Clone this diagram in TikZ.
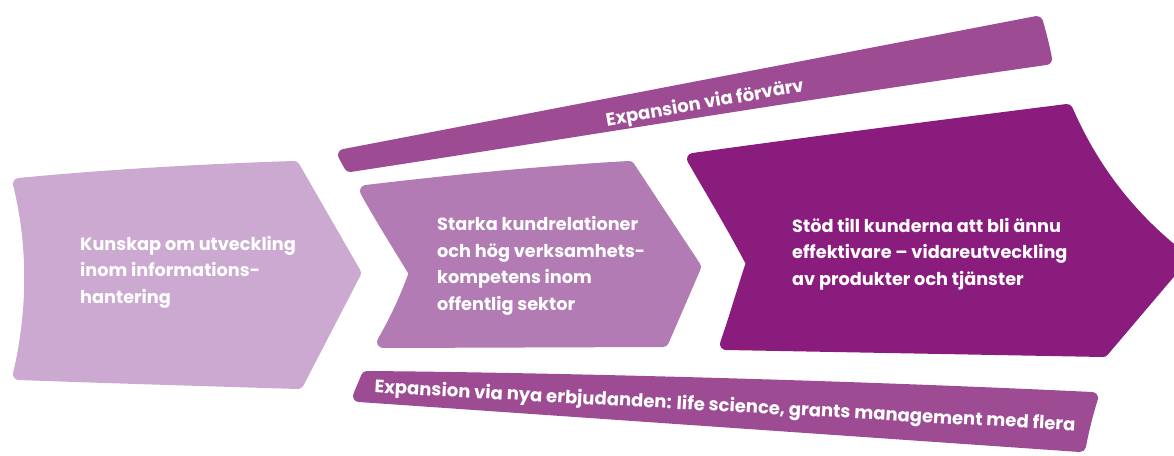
\documentclass[tikz,border=0pt]{standalone}
\usepackage{fontspec}
\setmainfont{Poppins}
\usepackage{tikz}

\definecolor{lilaljus}{HTML}{CCA9D1}
\definecolor{lilamellan}{HTML}{B27BB3}
\definecolor{lilamork}{HTML}{8A1C7E}
\definecolor{lilaband}{HTML}{9D4C94}

\begin{document}
\begin{tikzpicture}[x=1pt, y=-1pt,
  pil/.style={line width=12, line join=round},
  pilText/.style={text=white, font=\bfseries\fontsize{17.7}{26.5}\selectfont, align=left, anchor=west, inner sep=0},
  bandText/.style={text=white, font=\bfseries\fontsize{18}{20}\selectfont, inner sep=0}]
\useasboundingbox (0,0) rectangle (1174,455);

% band overst
\filldraw[lilaband, pil] (344,155) -- (1037,22) .. controls (1041,36) and (1044,48) .. (1046,59)
  .. controls (800,94) and (560,134) .. (350,166) -- cycle;

% tre pilar
\filldraw[lilaljus, pil] (19,184) .. controls (100,176) and (200,170) .. (294,167) -- (355,273) -- (298,383)
  .. controls (200,380) and (100,377) .. (19,374) .. controls (34,310) and (34,245) .. cycle;
\filldraw[lilamellan, pil] (366,191) .. controls (450,181) and (540,172) .. (629,167) -- (695,267) -- (663,341)
  -- (383,342) .. controls (397,318) and (407,295) .. (415,273) .. controls (398,245) and (381,218) .. cycle;
\filldraw[lilamork, pil] (693,159) .. controls (800,144) and (940,126) .. (1067,110)
  .. controls (1092,168) and (1130,218) .. (1182,258) -- (1103,351)
  -- (726,344) .. controls (735,318) and (743,290) .. (752,263) .. controls (732,225) and (712,192) .. cycle;

% band nederst
\filldraw[lilaband, pil] (367,377) .. controls (500,378) and (800,384) .. (1092,398)
  .. controls (1087,414) and (1083,430) .. (1080,446) -- (359,396) -- cycle;

% texter
\node[pilText] (kunskap) at (80,272) {Kunskap om utveckling\\inom informations-\\hantering};
\node[pilText] (kunder) at (437,266) {Starka kundrelationer\\och hög verksamhets-\\kompetens inom\\offentlig sektor};
\node[pilText] (stod) at (792,254) {Stöd till kunderna att bli ännu\\effektivare – vidareutveckling\\av produkter och tjänster};
\node[bandText, rotate=10] (forvarv) at (705,104) {Expansion via förvärv};
\node[bandText, rotate=-3.1] (erbjud) at (725,407) {Expansion via nya erbjudanden: life science, grants management med flera};

\end{tikzpicture}
\end{document}
